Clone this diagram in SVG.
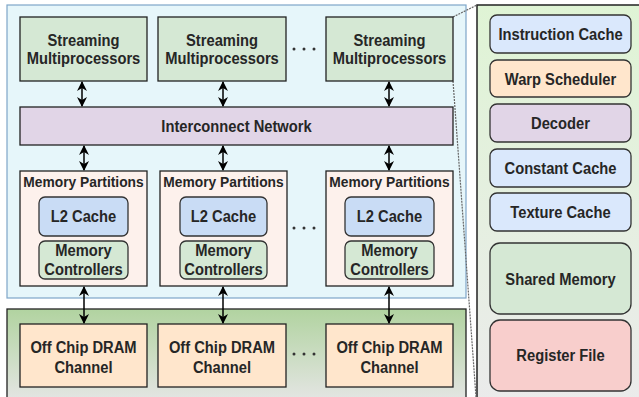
<svg xmlns="http://www.w3.org/2000/svg" width="639" height="397" viewBox="0 0 639 397">
<defs>
<linearGradient id="gDram" x1="0" y1="0" x2="0" y2="1">
<stop offset="0" stop-color="#b1d3a0"/>
<stop offset="1" stop-color="#e6e6e6"/>
</linearGradient>
<linearGradient id="gPanel" x1="0" y1="0" x2="0" y2="1">
<stop offset="0" stop-color="#dff4d5"/>
<stop offset="1" stop-color="#ebebeb"/>
</linearGradient>
<marker id="ah" viewBox="0 0 10 10" refX="9" refY="5" markerWidth="10" markerHeight="10" markerUnits="userSpaceOnUse" orient="auto-start-reverse">
<path d="M0,0 L10,5 L0,10 L3,5 Z" fill="#000"/>
</marker>
<style>
text{font-family:"Liberation Sans",Arial,sans-serif;font-weight:bold;font-size:16px;fill:#262626;text-anchor:middle}
.sm{fill:#d5e8d4;stroke:#222;stroke-width:1.3}
.ic{fill:#e1d5e7;stroke:#222;stroke-width:1.3}
.mp{fill:#fdf1ec;stroke:#222;stroke-width:1.3}
.l2{fill:#c9dcf5;stroke:#333;stroke-width:1.3}
.mc{fill:#d5e8d4;stroke:#333;stroke-width:1.3}
.dr{fill:#ffe6cc;stroke:#222;stroke-width:1.3}
.pb{stroke:#333;stroke-width:1.3}
.con line{stroke:#000;stroke-width:1.5}
.dot{fill:#333}
.zoom{stroke:#666;stroke-width:1.2;stroke-dasharray:2 1;fill:none}
.small{font-size:15px}
</style>
</defs>

<!-- containers -->
<g id="gpu">
<rect x="7" y="5" width="459" height="293" fill="#e6f6fa" stroke="#7ea6c8" stroke-width="1.2"/>
</g>
<g id="dram-area">
<rect x="7" y="309" width="459" height="95" fill="url(#gDram)" stroke="#222" stroke-width="1.3"/>
</g>
<g id="sm-panel">
<rect x="477" y="5" width="170" height="400" fill="url(#gPanel)" stroke="#222" stroke-width="1.5"/>
</g>

<!-- zoom lines -->
<g id="zoom-lines">
<line class="zoom" x1="453" y1="17" x2="477" y2="5"/>
<line class="zoom" x1="453" y1="81" x2="476" y2="397"/>
</g>

<!-- Streaming multiprocessors -->
<g id="sm1"><rect class="sm" x="20" y="17" width="127" height="64"/>
<text transform="matrix(0.92 0 0 1 83.5 46)">Streaming</text><text transform="matrix(0.92 0 0 1 83.5 64)">Multiprocessors</text></g>
<g id="sm2"><rect class="sm" x="158" y="17" width="128" height="64"/>
<text transform="matrix(0.92 0 0 1 222 46)">Streaming</text><text transform="matrix(0.92 0 0 1 222 64)">Multiprocessors</text></g>
<g id="sm3"><rect class="sm" x="326" y="17" width="127" height="64"/>
<text transform="matrix(0.92 0 0 1 389.5 46)">Streaming</text><text transform="matrix(0.92 0 0 1 389.5 64)">Multiprocessors</text></g>
<g id="dots1"><circle class="dot" cx="294" cy="49" r="1.5"/><circle class="dot" cx="304" cy="49" r="1.5"/><circle class="dot" cx="314" cy="49" r="1.5"/></g>

<!-- Interconnect -->
<g id="interconnect"><rect class="ic" x="20" y="107" width="433" height="38"/>
<text transform="matrix(0.92 0 0 1 236.5 131.5)">Interconnect Network</text></g>

<!-- Memory partitions -->
<g id="mp1"><rect class="mp" x="20" y="171" width="127" height="115"/>
<text class="small" transform="matrix(0.92 0 0 1 83.5 187)">Memory Partitions</text>
<rect class="l2" x="39" y="197" width="89" height="39" rx="6"/><text transform="matrix(0.92 0 0 1 83.5 222)">L2 Cache</text>
<rect class="mc" x="39" y="241" width="89" height="38" rx="6"/><text transform="matrix(0.92 0 0 1 83.5 255.5)">Memory</text><text transform="matrix(0.92 0 0 1 83.5 275)">Controllers</text></g>
<g id="mp2"><rect class="mp" x="160" y="171" width="127" height="115"/>
<text class="small" transform="matrix(0.92 0 0 1 223.5 187)">Memory Partitions</text>
<rect class="l2" x="180" y="197" width="87" height="39" rx="6"/><text transform="matrix(0.92 0 0 1 223.5 222)">L2 Cache</text>
<rect class="mc" x="180" y="241" width="87" height="38" rx="6"/><text transform="matrix(0.92 0 0 1 223.5 255.5)">Memory</text><text transform="matrix(0.92 0 0 1 223.5 275)">Controllers</text></g>
<g id="mp3"><rect class="mp" x="326" y="171" width="127" height="115"/>
<text class="small" transform="matrix(0.92 0 0 1 389.5 187)">Memory Partitions</text>
<rect class="l2" x="345" y="197" width="89" height="39" rx="6"/><text transform="matrix(0.92 0 0 1 389.5 222)">L2 Cache</text>
<rect class="mc" x="345" y="241" width="89" height="38" rx="6"/><text transform="matrix(0.92 0 0 1 389.5 255.5)">Memory</text><text transform="matrix(0.92 0 0 1 389.5 275)">Controllers</text></g>
<g id="dots2"><circle class="dot" cx="294" cy="228" r="1.5"/><circle class="dot" cx="304" cy="228" r="1.5"/><circle class="dot" cx="314" cy="228" r="1.5"/></g>

<!-- DRAM channels -->
<g id="dram1"><rect class="dr" x="20" y="324" width="127" height="63"/>
<text transform="matrix(0.92 0 0 1 83.5 352.5)">Off Chip DRAM</text><text transform="matrix(0.92 0 0 1 83.5 372.5)">Channel</text></g>
<g id="dram2"><rect class="dr" x="158" y="324" width="128" height="63"/>
<text transform="matrix(0.92 0 0 1 222 352.5)">Off Chip DRAM</text><text transform="matrix(0.92 0 0 1 222 372.5)">Channel</text></g>
<g id="dram3"><rect class="dr" x="326" y="324" width="127" height="63"/>
<text transform="matrix(0.92 0 0 1 389.5 352.5)">Off Chip DRAM</text><text transform="matrix(0.92 0 0 1 389.5 372.5)">Channel</text></g>
<g id="dots3"><circle class="dot" cx="294" cy="354" r="1.5"/><circle class="dot" cx="304" cy="354" r="1.5"/><circle class="dot" cx="314" cy="354" r="1.5"/></g>

<!-- SM internals -->
<g id="instr-cache"><rect class="pb" x="490" y="15" width="141" height="38" rx="7" fill="#dae8fc"/><text transform="matrix(0.92 0 0 1 560.5 39.5)">Instruction Cache</text></g>
<g id="warp-sched"><rect class="pb" x="490" y="60" width="141" height="37" rx="7" fill="#ffe6cc"/><text transform="matrix(0.92 0 0 1 560.5 84.5)">Warp Scheduler</text></g>
<g id="decoder"><rect class="pb" x="490" y="104" width="141" height="38" rx="7" fill="#e1d5e7"/><text transform="matrix(0.92 0 0 1 560.5 128.5)">Decoder</text></g>
<g id="const-cache"><rect class="pb" x="490" y="149" width="141" height="38" rx="7" fill="#dae8fc"/><text transform="matrix(0.92 0 0 1 560.5 173.5)">Constant Cache</text></g>
<g id="tex-cache"><rect class="pb" x="490" y="193" width="141" height="38" rx="7" fill="#dae8fc"/><text transform="matrix(0.92 0 0 1 560.5 217.5)">Texture Cache</text></g>
<g id="shared-mem"><rect class="pb" x="490" y="243" width="141" height="71" rx="10" fill="#d5e8d4"/><text transform="matrix(0.92 0 0 1 560.5 284.5)">Shared Memory</text></g>
<g id="reg-file"><rect class="pb" x="490" y="320" width="141" height="71" rx="10" fill="#f8cecc"/><text transform="matrix(0.92 0 0 1 560.5 360.5)">Register File</text></g>

<!-- connectors -->
<g id="connectors" class="con">
<line x1="82" y1="82" x2="82" y2="106" marker-start="url(#ah)" marker-end="url(#ah)"/>
<line x1="223" y1="82" x2="223" y2="106" marker-start="url(#ah)" marker-end="url(#ah)"/>
<line x1="389" y1="82" x2="389" y2="106" marker-start="url(#ah)" marker-end="url(#ah)"/>
<line x1="84" y1="146" x2="84" y2="170" marker-start="url(#ah)" marker-end="url(#ah)"/>
<line x1="223" y1="146" x2="223" y2="170" marker-start="url(#ah)" marker-end="url(#ah)"/>
<line x1="389" y1="146" x2="389" y2="170" marker-start="url(#ah)" marker-end="url(#ah)"/>
<line x1="84" y1="287" x2="84" y2="323" marker-start="url(#ah)" marker-end="url(#ah)"/>
<line x1="223" y1="287" x2="223" y2="323" marker-start="url(#ah)" marker-end="url(#ah)"/>
<line x1="389" y1="287" x2="389" y2="323" marker-start="url(#ah)" marker-end="url(#ah)"/>
</g>
</svg>
